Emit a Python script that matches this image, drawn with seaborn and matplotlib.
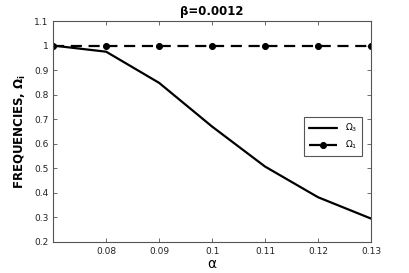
import matplotlib
matplotlib.use("Agg")
import matplotlib.pyplot as plt
import seaborn as sns
import pandas as pd

alpha = [0.07, 0.08, 0.09, 0.10, 0.11, 0.12, 0.13]
omega3 = [1.0, 0.975, 0.848, 0.67, 0.507, 0.382, 0.295]
omega1 = [1.0, 1.0, 1.0, 1.0, 1.0, 1.0, 1.0]
xticks = [0.08, 0.09, 0.10, 0.11, 0.12, 0.13]
xticklabels = ["0.08", "0.09", "0.1", "0.11", "0.12", "0.13"]
yticks = [0.2, 0.3, 0.4, 0.5, 0.6, 0.7, 0.8, 0.9, 1.0, 1.1]
yticklabels = ["0.2", "0.3", "0.4", "0.5", "0.6", "0.7", "0.8", "0.9", "1", "1.1"]

sns.set_style("ticks")
plt.rcParams['font.family'] = ['DejaVu Sans']
plt.rcParams['text.color'] = 'black'
plt.rcParams['axes.labelcolor'] = 'black'

df = pd.DataFrame({"alpha": alpha, "o3": omega3, "o1": omega1})

fig = plt.figure(figsize=(4.09, 2.73), dpi=100)
ax = fig.add_axes([0.130, 0.114, 0.777, 0.809])

sns.lineplot(data=df, x="alpha", y="o3", ax=ax, color="black", linewidth=1.6,
             label=r"$\mathregular{\Omega_3}$")
sns.lineplot(data=df, x="alpha", y="o1", ax=ax, color="black", linewidth=1.6,
             linestyle=(0, (5, 3)), marker="o", markersize=4.3, markeredgecolor="black",
             label=r"$\mathregular{\Omega_1}$")

ax.set_xlim(0.07, 0.13)
ax.set_ylim(0.2, 1.1)
ax.set_xticks(xticks)
ax.set_xticklabels(xticklabels)
ax.set_yticks(yticks)
ax.set_yticklabels(yticklabels)
ax.tick_params(direction="in", top=True, right=True, labelsize=6.5, length=3,
               color="#555555", width=0.6, labelcolor="#222222")
for s in ax.spines.values():
    s.set_linewidth(0.8)
    s.set_color("#555555")

ax.set_xlabel("α", fontsize=10, labelpad=1)
ax.set_ylabel(r"FREQUENCIES, $\mathregular{\Omega_i}$", fontsize=8.5, fontweight="bold", labelpad=4)
ax.set_title("β=0.0012", fontsize=8.5, fontweight="bold", pad=4)

leg = ax.legend(loc="center right", bbox_to_anchor=(0.985, 0.477), fontsize=6.5,
                frameon=True, fancybox=False, edgecolor="#555555", framealpha=1,
                handlelength=3.2, borderpad=0.5, labelspacing=0.5)
leg.get_frame().set_linewidth(0.8)

fig.savefig("out.png", dpi=100)
